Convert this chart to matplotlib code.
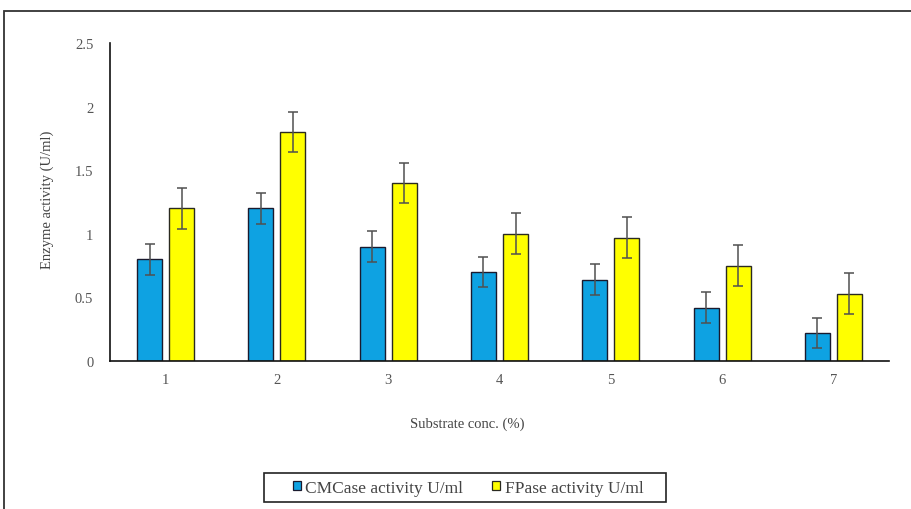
import matplotlib
matplotlib.use("Agg")
import matplotlib.pyplot as plt
import numpy as np
from matplotlib.patches import Rectangle

categories = ["1", "2", "3", "4", "5", "6", "7"]
cmcase = [0.80, 1.20, 0.90, 0.70, 0.64, 0.42, 0.22]
cmcase_err = [0.12, 0.12, 0.12, 0.12, 0.12, 0.12, 0.12]
fpase = [1.20, 1.80, 1.40, 1.00, 0.97, 0.75, 0.53]
fpase_err = [0.16, 0.16, 0.16, 0.16, 0.16, 0.16, 0.16]
yticks = [0, 0.5, 1, 1.5, 2, 2.5]
ytick_labels = ["0", "0.5", "1", "1.5", "2", "2.5"]

plt.rcParams['font.family'] = ['Liberation Serif', 'DejaVu Serif']

fig = plt.figure(figsize=(9.11, 5.10), dpi=100)
ax = fig.add_axes([110/911, 1-362/510, (889-110)/911, (362-44)/510])

x = np.arange(len(categories))
w = 0.225
off = 0.144
ekw = dict(ecolor='#505050', elinewidth=1.1, capsize=3.5, capthick=1.1)
ax.bar(x - off, cmcase, w, yerr=cmcase_err, color='#0EA2E2', edgecolor='#1a1a2e',
       linewidth=1.0, error_kw=ekw, label='CMCase activity U/ml')
ax.bar(x + off, fpase, w, yerr=fpase_err, color='#FFFF00', edgecolor='#2a2a20',
       linewidth=1.0, error_kw=ekw, label='FPase activity U/ml')

ax.set_xlim(-0.5, len(categories) - 0.5)
ax.set_ylim(0, 2.5)
ax.set_xticks(x)
ax.set_xticklabels(categories)
ax.set_yticks(yticks)
ax.set_yticklabels(ytick_labels)
ax.tick_params(axis='both', length=0, labelsize=10.5, labelcolor='#555555')
ax.tick_params(axis='y', pad=12)
ax.tick_params(axis='x', pad=9)
for s in ['top', 'right']:
    ax.spines[s].set_visible(False)
for s in ['left', 'bottom']:
    ax.spines[s].set_color('#111111')
    ax.spines[s].set_linewidth(1.2)

fig.text(467/911, 1-424/510, "Substrate conc. (%)", ha='center', va='center',
         fontsize=10.5, color='#444444')
fig.text(47/911, 1-200/510, "Enzyme activity (U/ml)", ha='center', va='center',
         rotation=90, fontsize=10.5, color='#444444')

leg = fig.legend(loc='center', bbox_to_anchor=(468/911, 1-489/510), ncol=2,
                 fontsize=12.5, frameon=False, handlelength=0.45,
                 handleheight=0.45, handletextpad=0.25, columnspacing=1.7,
                 borderpad=0.2)
for t in leg.get_texts():
    t.set_color('#444444')
for h in leg.legend_handles:
    h.set_linewidth(0.9)

fig.patches.append(Rectangle((264/911, 1-503/510), 402/911, 29/510,
                             transform=fig.transFigure, fill=False,
                             edgecolor='#222222', linewidth=1.2))

fig.patches.append(Rectangle((4/911, -0.1), 1.2, 1.1 - 12/510,
                             transform=fig.transFigure, fill=False,
                             edgecolor='#333333', linewidth=1.3))

fig.savefig("out.png", dpi=100)
